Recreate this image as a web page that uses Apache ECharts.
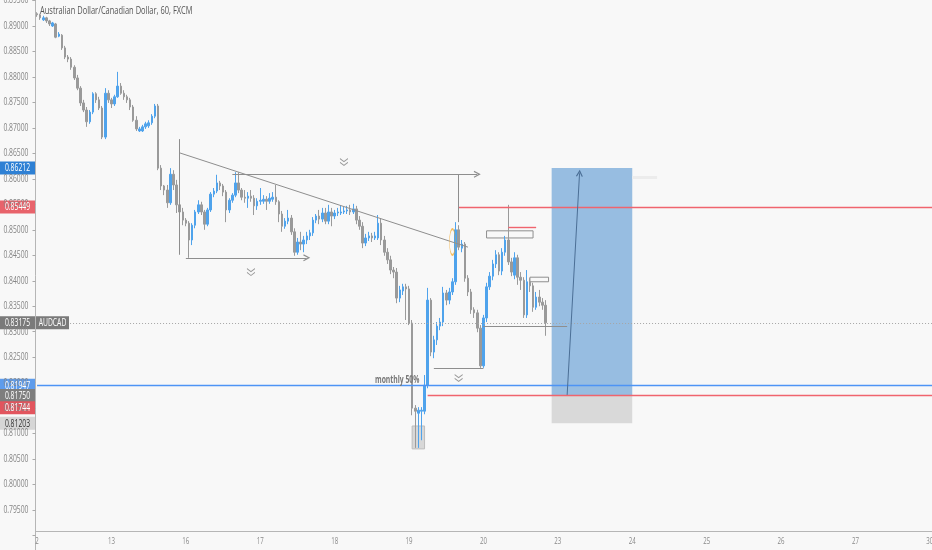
<!DOCTYPE html>
<html><head><meta charset="utf-8">
<script src="https://cdn.jsdelivr.net/npm/echarts@6/dist/echarts.min.js"></script>
<style>html,body{margin:0;padding:0;background:#f8f8f8}#c{width:932px;height:550px}</style>
</head><body><div id="c"></div>
<script>
// ---------- data ----------
const titleText = 'Australian Dollar/Canadian Dollar, 60, FXCM';
const dayLabels = ['2','13','16','17','18','19','20','23','24','25','26','27','30'];
const yTickLabels = ['0.79500','0.80000','0.80500','0.81000','0.81500','0.82000','0.82500','0.83000','0.83500','0.84000',
  '0.84500','0.85000','0.85500','0.86000','0.86500','0.87000','0.87500','0.88000','0.88500','0.89000','0.89500'];
// hourly candles: [open, close, low, high]
const day12 = [
[0.8924,0.8922,0.8918,0.8927],[0.8922,0.8916,0.8912,0.8924],[0.8912,0.8916,0.8910,0.8920],[0.8916,0.8910,0.8906,0.8918],
[0.8910,0.8904,0.8900,0.8912],[0.8900,0.8906,0.8898,0.8908],[0.8904,0.8878,0.8876,0.8906],[0.8880,0.8884,0.8878,0.8888],
[0.8882,0.8857,0.8853,0.8884],[0.8857,0.8839,0.8835,0.8861],[0.8839,0.8835,0.8829,0.8843],[0.8835,0.8819,0.8814,0.8839],
[0.8819,0.8798,0.8794,0.8823],[0.8798,0.8778,0.8774,0.8804],[0.8778,0.8749,0.8743,0.8782],[0.8749,0.8735,0.8731,0.8755],
[0.8735,0.8712,0.8702,0.8741],[0.8712,0.8731,0.8708,0.8735],[0.8731,0.8767,0.8727,0.8770],[0.8767,0.8755,0.8749,0.8770],
[0.8755,0.8739,0.8735,0.8761],[0.8739,0.8682,0.8678,0.8743],[0.8682,0.8768,0.8678,0.8778],[0.8768,0.8755,0.8749,0.8774]];
const day13 = [
[0.8755,0.8747,0.8739,0.8759],[0.8747,0.8761,0.8743,0.8765],[0.8761,0.8782,0.8759,0.8810],[0.8782,0.8768,0.8765,0.8788],
[0.8768,0.8761,0.8755,0.8774],[0.8761,0.8755,0.8749,0.8765],[0.8755,0.8741,0.8735,0.8759],[0.8741,0.8715,0.8712,0.8745],
[0.8715,0.8698,0.8694,0.8723],[0.8694,0.8698,0.8692,0.8702],[0.8694,0.8702,0.8692,0.8706],[0.8702,0.8708,0.8698,0.8712],
[0.8704,0.8710,0.8700,0.8715],[0.8710,0.8723,0.8706,0.8727],[0.8723,0.8743,0.8719,0.8747],[0.8743,0.8621,0.8617,0.8747],
[0.8621,0.8586,0.8578,0.8627],[0.8586,0.8578,0.8568,0.8588],[0.8578,0.8553,0.8543,0.8588],[0.8553,0.8609,0.8549,0.8621],
[0.8609,0.8588,0.8578,0.8617],[0.8588,0.8549,0.8533,0.8598],[0.8549,0.8535,0.8515,0.8553],[0.8535,0.8519,0.8509,0.8543]];
const day16 = [
[0.8519,0.8513,0.8507,0.8523],[0.8513,0.8480,0.8445,0.8517],[0.8480,0.8509,0.8470,0.8513],[0.8509,0.8535,0.8503,0.8539],
[0.8535,0.8549,0.8531,0.8558],[0.8549,0.8535,0.8529,0.8555],[0.8535,0.8511,0.8500,0.8539],[0.8511,0.8539,0.8507,0.8543],
[0.8539,0.8570,0.8535,0.8574],[0.8570,0.8576,0.8564,0.8582],[0.8576,0.8592,0.8572,0.8608],[0.8592,0.8586,0.8578,0.8596],
[0.8586,0.8574,0.8566,0.8590],[0.8574,0.8539,0.8515,0.8578],[0.8539,0.8558,0.8533,0.8562],[0.8558,0.8568,0.8553,0.8572],
[0.8568,0.8592,0.8564,0.8613],[0.8592,0.8578,0.8572,0.8613],[0.8578,0.8564,0.8558,0.8582],[0.8564,0.8562,0.8553,0.8578],
[0.8562,0.8566,0.8543,0.8574],[0.8566,0.8562,0.8555,0.8578],[0.8562,0.8547,0.8529,0.8568],[0.8547,0.8556,0.8539,0.8562]];
const day17 = [
[0.8556,0.8558,0.8549,0.8582],[0.8556,0.8560,0.8551,0.8568],[0.8560,0.8556,0.8539,0.8566],[0.8556,0.8562,0.8551,0.8572],
[0.8560,0.8564,0.8555,0.8574],[0.8564,0.8555,0.8549,0.8588],[0.8555,0.8531,0.8515,0.8558],[0.8531,0.8507,0.8496,0.8537],
[0.8507,0.8517,0.8502,0.8523],[0.8517,0.8523,0.8511,0.8539],[0.8523,0.8496,0.8490,0.8529],[0.8496,0.8456,0.8449,0.8503],
[0.8456,0.8476,0.8451,0.8484],[0.8476,0.8472,0.8460,0.8496],[0.8472,0.8480,0.8456,0.8488],[0.8480,0.8488,0.8472,0.8496],
[0.8488,0.8494,0.8480,0.8500],[0.8494,0.8519,0.8488,0.8525],[0.8519,0.8527,0.8513,0.8531],[0.8527,0.8521,0.8511,0.8539],
[0.8521,0.8533,0.8515,0.8543],[0.8533,0.8517,0.8511,0.8543],[0.8517,0.8535,0.8511,0.8549],[0.8535,0.8527,0.8507,0.8543]];
const day18 = [
[0.8527,0.8533,0.8521,0.8539],[0.8533,0.8535,0.8527,0.8543],[0.8533,0.8535,0.8529,0.8547],[0.8535,0.8537,0.8531,0.8545],
[0.8537,0.8539,0.8531,0.8547],[0.8539,0.8535,0.8529,0.8549],[0.8535,0.8541,0.8531,0.8551],[0.8541,0.8519,0.8511,0.8547],
[0.8519,0.8507,0.8500,0.8527],[0.8507,0.8474,0.8464,0.8515],[0.8474,0.8484,0.8468,0.8492],[0.8484,0.8488,0.8478,0.8496],
[0.8488,0.8484,0.8476,0.8494],[0.8484,0.8488,0.8480,0.8496],[0.8484,0.8513,0.8480,0.8529],[0.8513,0.8480,0.8470,0.8523],
[0.8480,0.8456,0.8449,0.8488],[0.8456,0.8441,0.8433,0.8464],[0.8441,0.8421,0.8413,0.8449],[0.8421,0.8417,0.8405,0.8427],
[0.8417,0.8366,0.8356,0.8425],[0.8366,0.8382,0.8358,0.8390],[0.8380,0.8388,0.8372,0.8394],[0.8388,0.8384,0.8323,0.8394]];
const day19 = [
[0.8384,0.8317,0.8313,0.8390],[0.8317,0.8150,0.8136,0.8323],[0.8150,0.8144,0.8072,0.8156],[0.8140,0.8146,0.8072,0.8152],
[0.8144,0.8146,0.8087,0.8152],[0.8144,0.8195,0.8138,0.8215],[0.8195,0.8362,0.8189,0.8386],[0.8362,0.8260,0.8252,0.8366],
[0.8260,0.8284,0.8248,0.8292],[0.8284,0.8311,0.8274,0.8319],[0.8311,0.8319,0.8303,0.8327],[0.8319,0.8376,0.8311,0.8388],
[0.8376,0.8362,0.8352,0.8382],[0.8362,0.8378,0.8354,0.8386],[0.8378,0.8398,0.8372,0.8405],[0.8398,0.8500,0.8392,0.8515],
[0.8500,0.8466,0.8460,0.8509],[0.8464,0.8472,0.8456,0.8480],[0.8472,0.8405,0.8398,0.8476],[0.8405,0.8378,0.8370,0.8411],
[0.8378,0.8343,0.8335,0.8384],[0.8343,0.8337,0.8327,0.8348],[0.8337,0.8307,0.8299,0.8343],[0.8307,0.8233,0.8229,0.8313]];
const day20 = [
[0.8233,0.8327,0.8229,0.8333],[0.8327,0.8388,0.8319,0.8396],[0.8388,0.8409,0.8382,0.8417],[0.8409,0.8433,0.8401,0.8441],
[0.8433,0.8451,0.8425,0.8460],[0.8451,0.8419,0.8411,0.8456],[0.8419,0.8456,0.8411,0.8464],[0.8456,0.8480,0.8449,0.8488],
[0.8480,0.8437,0.8431,0.8549],[0.8437,0.8417,0.8409,0.8445],[0.8411,0.8445,0.8403,0.8456],[0.8445,0.8407,0.8392,0.8451],
[0.8407,0.8401,0.8382,0.8417],[0.8401,0.8333,0.8327,0.8407],[0.8333,0.8398,0.8327,0.8421],[0.8398,0.8390,0.8378,0.8405],
[0.8390,0.8348,0.8339,0.8396],[0.8348,0.8368,0.8343,0.8378],[0.8368,0.8358,0.8350,0.8382],[0.8358,0.8352,0.8343,0.8366],
[0.8352,0.83175,0.8292,0.8362]];

// price axis
const yMin = 0.785, yMax = 0.8951, yStep = 0.005;
// key levels
const posTarget = 0.86212, posEntry = 0.81750, posStop = 0.81203;
const monthly50 = 0.81947;
const redTop = 0.85449, redBottom = 0.81744;
// drawings: [hour index, price]
const trendLine = [[46, 0.8651], [139, 0.8466]];
const trendStem = [[46, 0.8678], [46, 0.8451]];
const lowArrow = [[48, 0.8445], [87, 0.8445]];
const highArrow = [[63, 0.8609], [142, 0.8609]];
const highStem = [[136, 0.8609], [136, 0.8515]];
const baseLine1 = [[128, 0.8229], [144, 0.8229]];
const baseLine2 = [[144, 0.8311], [171, 0.8311]];
const redShort = [[152, 0.8505], [161, 0.8505]];
const posArrow = [[171, 0.8176], [175, 0.8611]];
const ghostLine = [[192, 0.8604], [200, 0.8604]];
const redTopStart = 136, redBottomStart = 126;
const posSpan = [166, 192];
const box1 = [[145, 0.8498], [160, 0.8484]];
const box2 = [[159, 0.8407], [165, 0.8398]];
const wickBox = [[121, 0.8115], [125, 0.8070]];
const chevrons = [[69, 0.8417], [99, 0.8633], [136, 0.8209]];
const monthlyText = {at: 109, text: 'monthly 50%'};
const orangeMark = [134, 0.8476];

// ---------- chart ----------
const FONT = "'Open Sans',sans-serif";
const SX = 0.68; // horizontal squeeze of the reference's text
const HOURS = 24, NCAT = 290;
const categories = [];
dayLabels.forEach(d => { for (let h = 0; h < HOURS; h++) if (categories.length < NCAT) categories.push(d + ' ' + h); });
const candles = [].concat(day12, day13, day16, day17, day18, day19, day20);
const lastClose = candles[candles.length - 1][1];
const LAST = NCAT - 1;

const arrowHead = 'path://M0,9 L5,0 L10,9 L8.4,9.6 L5,3.4 L1.6,9.6 Z';
const chevronPath = 'path://M0,0 L5,4 L10,0 L10,1.6 L5,5.6 L0,1.6 Z M0,5 L5,9 L10,5 L10,6.6 L5,10.6 L0,6.6 Z';
const GRAY_C = '#8e8e8e', RED_C = '#f0646e', BLUE_C = '#4d94f5';
const ln = (pts, color, width, type) => ({coords: pts, lineStyle: {color: color, width: width || 1, type: type || 'solid', opacity: 1}});
const rectArea = (pts, style) => [{coord: pts[0], itemStyle: Object.assign({}, style)}, {coord: pts[1], itemStyle: Object.assign({}, style)}];

const plainLines = [
  ln([[0, lastClose], [LAST, lastClose]], '#a6a6a6', 1, [1, 2]),
  ln([[0, monthly50], [LAST, monthly50]], BLUE_C, 1.4),
  ln([[redTopStart, redTop], [LAST, redTop]], RED_C, 1.4),
  ln([[redBottomStart, redBottom], [LAST, redBottom]], RED_C, 1.4),
  ln(trendLine, GRAY_C),
  ln(trendStem, GRAY_C),
  ln(highStem, GRAY_C),
  ln(baseLine1, GRAY_C),
  ln(baseLine2, GRAY_C),
  ln(redShort, RED_C, 1.4),
  ln(ghostLine, '#ececec', 3)
];
const arrowLines = [
  ln(lowArrow, GRAY_C),
  ln(highArrow, GRAY_C),
  ln(posArrow, '#4b6f96')
];

const option = {
  backgroundColor: '#f8f8f8',
  animation: false,
  grid: {left: 35.5, right: -2.5, top: 0, bottom: -11, containLabel: false, outerBoundsMode: 'none'},
  xAxis: {
    type: 'category', data: categories, boundaryGap: true, offset: -30,
    axisLine: {lineStyle: {color: '#b6b6b6'}}, axisTick: {show: false}, axisLabel: {show: false},
    splitLine: {show: false}
  },
  yAxis: {
    type: 'value', min: yMin, max: yMax, interval: yStep, position: 'left',
    axisLine: {show: true, lineStyle: {color: '#b6b6b6'}},
    axisTick: {show: true, length: 3, lineStyle: {color: '#aaa'}},
    axisLabel: {show: false},
    splitLine: {show: false}
  },
  series: [{
    type: 'candlestick', data: candles, barWidth: 2,
    itemStyle: {color: '#4fa3ec', color0: '#9a9a9a', borderColor: '#4fa3ec', borderColor0: '#9a9a9a', borderWidth: 1},
    markArea: {
      silent: true,
      data: [
        rectArea([[posSpan[0], posTarget], [posSpan[1], posEntry]], {color: 'rgba(45,125,200,0.48)'}),
        rectArea([[posSpan[0], posEntry], [posSpan[1], posStop]], {color: '#d9d9d9'}),
        rectArea(wickBox, {color: 'rgba(190,190,190,0.55)', borderColor: '#bdbdbd', borderWidth: 1}),
        rectArea(box1, {color: 'rgba(0,0,0,0)', borderColor: '#8e8e8e', borderWidth: 1}),
        rectArea(box2, {color: 'rgba(0,0,0,0)', borderColor: '#8e8e8e', borderWidth: 1})
      ]
    },
    markPoint: {
      silent: true, label: {show: false},
      data: chevrons.map(c => ({coord: c, symbol: chevronPath, symbolSize: [8, 8], itemStyle: {color: '#9a9a9a'}}))
        .concat([
          {coord: orangeMark, symbol: 'circle', symbolSize: [6, 26],
            itemStyle: {color: 'rgba(0,0,0,0)', borderColor: 'rgba(245,166,35,0.7)', borderWidth: 1}}
        ])
    }
  }, {
    type: 'lines', coordinateSystem: 'cartesian2d', silent: true, polyline: false,
    symbol: ['none', 'none'], data: plainLines, z: 3
  }, {
    type: 'lines', coordinateSystem: 'cartesian2d', silent: true, polyline: false,
    symbol: ['none', arrowHead], symbolSize: 7, data: arrowLines, z: 3
  }]
};

const chart = echarts.init(document.getElementById('c'), null, {renderer: 'canvas'});
chart.setOption(option);

// ---------- texts placed through the axes' scales ----------
const graphics = [];
function txt(x, y, text, size, color, align, weight) {
  graphics.push({type: 'text', z: 101, silent: true, x: x, y: y, scaleX: SX,
    style: {text: text, x: 0, y: 0, align: align || 'left', verticalAlign: 'middle', fill: color,
      font: (weight ? weight + ' ' : '') + size + 'px ' + FONT}});
}
txt(40, 11, titleText, 11, '#555', 'left');
yTickLabels.forEach(s => {
  const y = chart.convertToPixel({yAxisIndex: 0}, parseFloat(s));
  txt(28.5, y, s, 10, '#858585', 'right');
});
dayLabels.forEach((d, k) => {
  const x = chart.convertToPixel({xAxisIndex: 0}, k * HOURS);
  txt(x, 541, d, 9, '#888', 'center');
});
{
  const p = chart.convertToPixel({seriesIndex: 0}, [monthlyText.at, monthly50]);
  txt(p[0], p[1] - 5, monthlyText.text, 10, '#777', 'left', 'bold');
}
const priceTags = [
  {v: posTarget, bg: '#2e80d4', fg: '#fff'},
  {v: redTop, bg: '#e8636b', fg: '#fff'},
  {v: lastClose, bg: '#7a7a7a', fg: '#fff', tag: 'AUDCAD'},
  {v: monthly50, bg: '#5e9cec', fg: '#fff'},
  {v: posEntry, bg: '#7e7e7e', fg: '#fff'},
  {v: redBottom, bg: '#e2555e', fg: '#fff', shift: 12},
  {v: posStop, bg: '#d6d6d6', fg: '#333'}
];
priceTags.forEach(t => {
  const y = chart.convertToPixel({yAxisIndex: 0}, t.v) + (t.shift || 0);
  graphics.push({type: 'rect', z: 100, silent: true, shape: {x: 0, y: y - 6.5, width: 35, height: 13}, style: {fill: t.bg}});
  txt(17.5, y + 0.5, t.v.toFixed(5), 10, t.fg, 'center');
  if (t.tag) {
    graphics.push({type: 'rect', z: 100, silent: true, shape: {x: 36, y: y - 6.5, width: 33, height: 13}, style: {fill: t.bg}});
    txt(52.5, y + 0.5, t.tag, 10, t.fg, 'center');
  }
});
chart.setOption({graphic: graphics});
</script>
</body></html>
